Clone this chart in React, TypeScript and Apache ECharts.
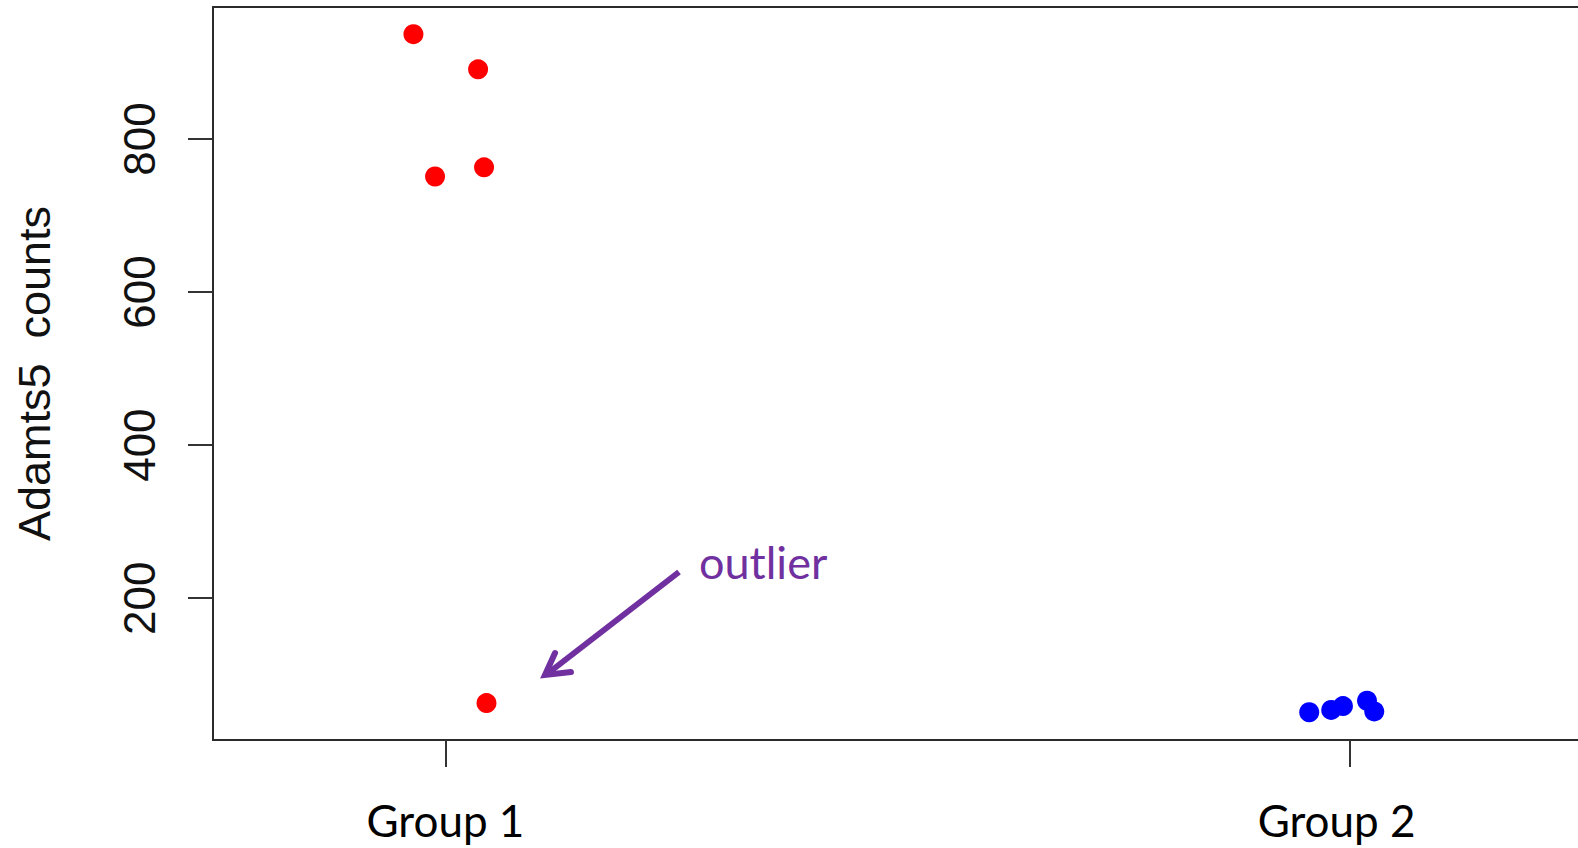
import React, { useEffect, useRef } from "react";
import * as echarts from "echarts";

const groups = ["Group 1", "Group 2"];
const groupPositions = [1, 2];
const yTicks = [200, 400, 600, 800];
const group1X = [0.9646, 1.0361, 1.0427, 0.9885, 1.0454];
const group1Y = [937, 891, 763, 751, 63];
const group2X = [1.9554, 1.9797, 1.9927, 2.0193, 2.0273];
const group2Y = [51, 54, 59, 66, 52];
const yAxisTitle = "Adamts5  counts";
const outlierLabel = "outlier";

const PURPLE = "#7030A0";

export default function App() {
  const ref = useRef<HTMLDivElement>(null);
  useEffect(() => {
    if (!ref.current) return;
    const chart = echarts.init(ref.current, undefined, { renderer: "svg" });
    const g1 = group1X.map((x, i) => [x, group1Y[i]]);
    const g2 = group2X.map((x, i) => [x, group2Y[i]]);
    const labelFont = { fontFamily: "Lato", fontSize: 44, color: "#000" };
    chart.setOption({
      animation: false,
      backgroundColor: "#ffffff",
      grid: {
        left: 213,
        top: 7,
        right: 2,
        bottom: 108,
        show: true,
        borderColor: "#2b2b2b",
        borderWidth: 2,
        backgroundColor: "transparent",
      },
      xAxis: {
        type: "value",
        min: 0.7429,
        max: 2.2571,
        axisLine: { show: false },
        splitLine: { show: false },
        axisTick: {
          show: true,
          length: 27,
          customValues: groupPositions,
          lineStyle: { color: "#333", width: 2 },
        },
        axisLabel: {
          customValues: groupPositions,
          formatter: (v: number) => {
            const i = Math.round(v) - 1;
            return "{g" + (i + 1) + "|" + (groups[i] ?? "") + "}";
          },
          margin: 58,
          ...labelFont,
          rich: {
            g1: { ...labelFont, padding: [0, 0, 0, 0] },
            g2: { ...labelFont, padding: [0, 26, 0, 0] },
          },
        },
      },
      yAxis: {
        type: "value",
        min: 14.7,
        max: 972.5,
        name: yAxisTitle,
        nameLocation: "middle",
        nameRotate: 90,
        nameGap: 156,
        nameTextStyle: {
          fontFamily: "Liberation Sans",
          fontSize: 45,
          color: "#111",
        },
        axisLine: { show: false },
        splitLine: { show: false },
        axisTick: {
          show: true,
          length: 25,
          customValues: yTicks,
          lineStyle: { color: "#333", width: 2 },
        },
        axisLabel: {
          customValues: yTicks,
          rotate: 90,
          margin: 52,
          fontFamily: "Liberation Sans",
          fontSize: 44,
          color: "#111",
        },
      },
      series: [
        {
          type: "scatter",
          data: g1,
          symbol: "circle",
          symbolSize: 20,
          itemStyle: { color: "#ff0000", opacity: 1 },
        },
        {
          type: "scatter",
          data: g2,
          symbol: "circle",
          symbolSize: 20,
          itemStyle: { color: "#0000ff", opacity: 1 },
        },
      ],
      graphic: [
        {
          type: "text",
          x: 699,
          y: 562,
          style: {
            text: outlierLabel,
            fill: PURPLE,
            fontFamily: "Lato",
            fontSize: 45,
            verticalAlign: "middle",
            align: "left",
          },
        },
        {
          type: "polyline",
          shape: { points: [[679, 572], [547, 674]] },
          style: { stroke: PURPLE, lineWidth: 6, fill: null },
        },
        {
          type: "polyline",
          shape: { points: [[555, 653], [545, 675], [571, 672]] },
          style: { stroke: PURPLE, lineWidth: 6, fill: null, lineJoin: "miter", lineCap: "round" },
        },
      ],
    });
    return () => chart.dispose();
  }, []);
  return (
    <div
      style={{
        position: "absolute",
        left: 0,
        top: 0,
        width: 1578,
        height: 848,
        overflow: "hidden",
      }}
    >
      <div ref={ref} style={{ width: 1584, height: 848 }} />
    </div>
  );
}
